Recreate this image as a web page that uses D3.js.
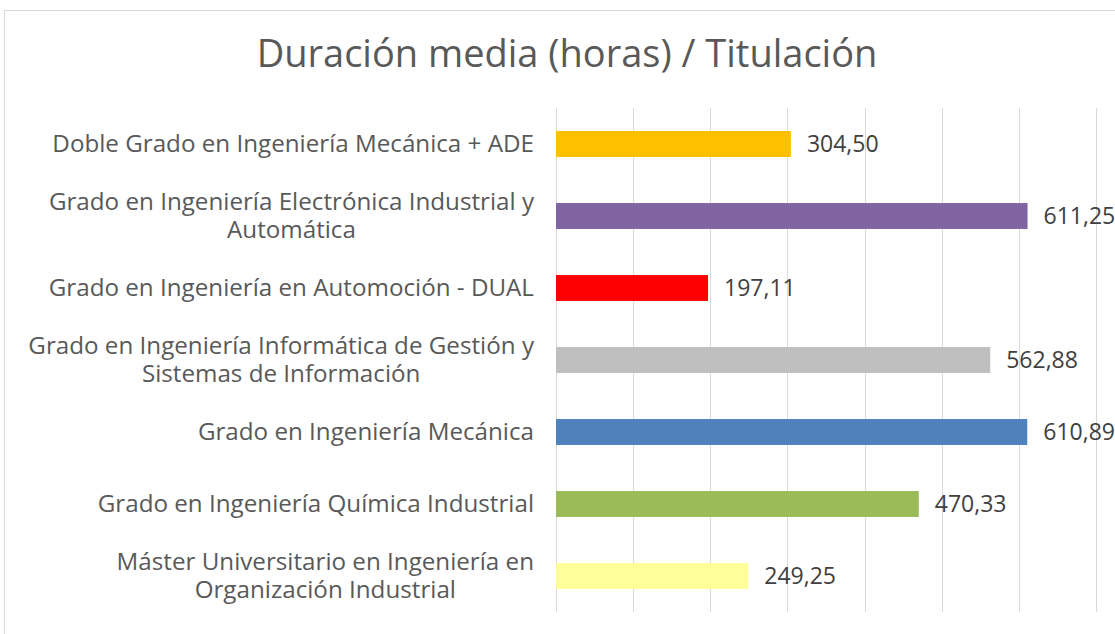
<!DOCTYPE html>
<html>
<head>
<meta charset="utf-8">
<script src="https://cdn.jsdelivr.net/npm/d3@7"></script>
<style>
  body { margin: 0; background: #fff; }
  svg { display: block; }
  text { font-family: "Open Sans", sans-serif; }
</style>
</head>
<body>
<div id="chart"></div>
<script>
// Data
const categories = [
    'Doble Grado en Ingeniería Mecánica + ADE',
    'Grado en Ingeniería Electrónica Industrial y\nAutomática',
    'Grado en Ingeniería en Automoción - DUAL',
    'Grado en Ingeniería Informática de Gestión y\nSistemas de Información',
    'Grado en Ingeniería Mecánica',
    'Grado en Ingeniería Química Industrial',
    'Máster Universitario en Ingeniería en\nOrganización Industrial'
];
const values = [304.50, 611.25, 197.11, 562.88, 610.89, 470.33, 249.25];
const colors = ['#ffc000', '#8064a2', '#ff0000', '#bfbfbf', '#4f81bd', '#9bbb59', '#ffff99'];
const xTicks = [0, 100, 200, 300, 400, 500, 600, 700];

const width = 1115, height = 634;
const margin = { top: 108, right: 20, bottom: 22, left: 556 };

const svg = d3.select('#chart')
    .append('svg')
    .attr('width', width)
    .attr('height', height);

// Chart area border
svg.append('rect')
    .attr('x', 4.5)
    .attr('y', 10.5)
    .attr('width', width + 10)
    .attr('height', height + 10)
    .attr('fill', 'none')
    .attr('stroke', '#d9d9d9')
    .attr('stroke-width', 1);

// Title
svg.append('text')
    .attr('x', 567)
    .attr('y', 67)
    .attr('text-anchor', 'middle')
    .attr('font-size', '38px')
    .attr('fill', '#595959')
    .text('Duración media (horas) / Titulación');

const x = d3.scaleLinear()
    .domain([0, 700])
    .range([margin.left, margin.left + 540]);

const y = d3.scaleBand()
    .domain(categories)
    .range([margin.top, height - margin.bottom])
    .paddingInner(0.64)
    .paddingOuter(0.32);

// Gridlines
svg.append('g')
    .selectAll('line')
    .data(xTicks)
    .join('line')
    .attr('x1', d => Math.round(x(d)) + 0.5)
    .attr('x2', d => Math.round(x(d)) + 0.5)
    .attr('y1', margin.top)
    .attr('y2', height - margin.bottom)
    .attr('stroke', '#d9d9d9')
    .attr('stroke-width', 1);

// Bars
svg.append('g')
    .selectAll('rect')
    .data(values)
    .join('rect')
    .attr('x', x(0))
    .attr('y', (d, i) => y(categories[i]))
    .attr('width', d => x(d) - x(0))
    .attr('height', y.bandwidth())
    .attr('fill', (d, i) => colors[i]);

// Value labels
svg.append('g')
    .selectAll('text')
    .data(values)
    .join('text')
    .attr('x', d => x(d) + 16)
    .attr('y', (d, i) => y(categories[i]) + y.bandwidth() / 2)
    .attr('dy', '0.35em')
    .attr('font-size', '23px')
    .attr('fill', '#404040')
    .text(d => d3.format('.2f')(d).replace('.', ','));

// Category labels, wrapped lines centred within a right-aligned block
const labelRight = 534;
const lineHeight = 28;
const labels = svg.append('g')
    .selectAll('g')
    .data(categories)
    .join('g');

labels.each(function(cat) {
    const g = d3.select(this);
    const lines = cat.split('\n');
    const cy = y(cat) + y.bandwidth() / 2;
    const texts = g.selectAll('text')
        .data(lines)
        .join('text')
        .attr('font-size', '24.2px')
        .attr('fill', '#595959')
        .attr('text-anchor', 'middle')
        .attr('dy', '0.35em')
        .attr('y', (d, i) => cy + (i - (lines.length - 1) / 2) * lineHeight)
        .text(d => d);
    let maxW = 0;
    texts.each(function() { maxW = Math.max(maxW, this.getComputedTextLength()); });
    texts.attr('x', labelRight - maxW / 2);
});
</script>
</body>
</html>
